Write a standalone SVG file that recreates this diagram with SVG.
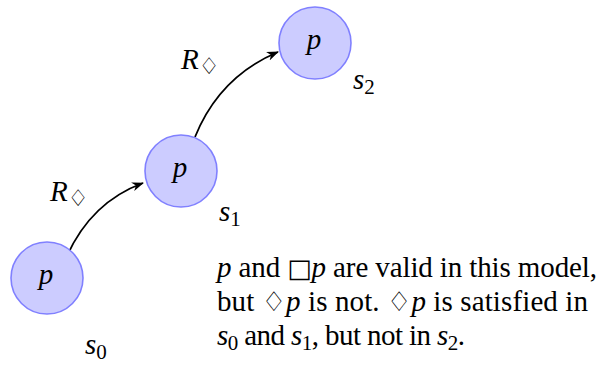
<svg xmlns="http://www.w3.org/2000/svg" width="604" height="365" viewBox="0 0 604 365">
<defs>
<style>
.node{fill:#ccccff;stroke:#8080ff;stroke-width:1.6}
.t{font-family:"Liberation Serif","Times New Roman",serif;font-size:29px;fill:#000}
.i{font-style:italic}
.sub{font-size:21px}
.edge{fill:none;stroke:#000;stroke-width:1.8}
.sym{font-family:"DejaVu Sans",sans-serif}
</style>
<marker id="arr" viewBox="0 0 12 10" refX="11" refY="5" markerWidth="12" markerHeight="10" markerUnits="userSpaceOnUse" orient="auto">
<path d="M0,0.5 L12,5 L0,9.5 L3.5,5 Z" fill="#000"/>
</marker>
</defs>
<g id="edges">
<path class="edge" d="M62,268 C78,225 105,197 143,183" marker-end="url(#arr)"/>
<path class="edge" d="M195,137 C212,95 240,68 278,52" marker-end="url(#arr)"/>
<text class="t" x="50" y="201"><tspan class="i">R</tspan><tspan class="sym" font-size="23" dy="5">♢</tspan></text>
<text class="t" x="181" y="69"><tspan class="i">R</tspan><tspan class="sym" font-size="23" dy="5">♢</tspan></text>
</g>
<g id="s0">
<circle class="node" cx="47" cy="278" r="36"/>
<text class="t i" x="46" y="284" text-anchor="middle">p</text>
<text class="t" x="85" y="354"><tspan class="i">s</tspan><tspan class="sub" dy="5">0</tspan></text>
</g>
<g id="s1">
<circle class="node" cx="181" cy="171" r="36"/>
<text class="t i" x="180" y="177" text-anchor="middle">p</text>
<text class="t" x="219" y="221"><tspan class="i">s</tspan><tspan class="sub" dy="5">1</tspan></text>
</g>
<g id="s2">
<circle class="node" cx="315" cy="43" r="36"/>
<text class="t i" x="314" y="49" text-anchor="middle">p</text>
<text class="t" x="353" y="89"><tspan class="i">s</tspan><tspan class="sub" dy="5">2</tspan></text>
</g>
<g id="caption">
<text class="t" x="217" y="277" textLength="380" lengthAdjust="spacing"><tspan class="i">p</tspan> and <tspan class="sym" font-size="26">□</tspan><tspan class="i">p</tspan> are valid in this model,</text>
<text class="t" x="217" y="311" textLength="371" lengthAdjust="spacing">but <tspan class="sym" font-size="27">♢</tspan><tspan class="i">p</tspan> is not.  <tspan class="sym" font-size="27">♢</tspan><tspan class="i">p</tspan> is satisfied in</text>
<text class="t" x="217" y="345" textLength="248" lengthAdjust="spacing"><tspan class="i">s</tspan><tspan class="sub" dy="5">0</tspan><tspan dy="-5"> and </tspan><tspan class="i">s</tspan><tspan class="sub" dy="5">1</tspan><tspan dy="-5">, but not in </tspan><tspan class="i">s</tspan><tspan class="sub" dy="5">2</tspan><tspan dy="-5">.</tspan></text>
</g>
</svg>
